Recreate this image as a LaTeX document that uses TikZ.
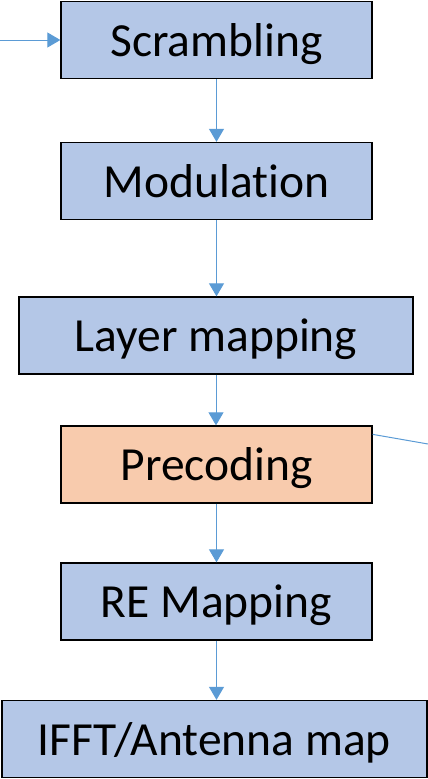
\documentclass[tikz,border=0pt]{standalone}
\usepackage{fontspec}
\setmainfont{Carlito}[Ligatures={NoCommon}]
\usetikzlibrary{arrows.meta}
\definecolor{boxblue}{HTML}{B4C7E7}
\definecolor{boxpeach}{HTML}{F8CBAD}
\definecolor{flowblue}{HTML}{5B9BD5}
\begin{document}
\begin{tikzpicture}[x=1pt,y=-1pt,
  stage/.style={draw=black, line width=1.3pt, fill=boxblue, minimum height=77pt,
    inner sep=0pt, text height=36pt, text depth=4pt,
    font=\fontsize{47.5}{52}\selectfont, text=black},
  flow/.style={draw=flowblue, line width=1pt, -{Triangle[width=15pt,length=13pt]}}]
\useasboundingbox (0,0) rectangle (428,779);
\node[stage, minimum width=311pt] (scr) at (216.5,40) {Scrambling};
\node[stage, minimum width=311pt] (mod) at (216.5,181) {Modulation};
\node[stage, minimum width=394pt] (lay) at (216,335.5) {Layer mapping};
\node[stage, minimum width=311pt, fill=boxpeach] (pre) at (216.5,464.5) {Precoding};
\node[stage, minimum width=311pt] (rem) at (216.5,601.5) {RE Mapping};
\node[stage, minimum width=425pt] (ifft) at (214.5,739) {IFFT/Antenna map};
\coordinate (in) at (0,40);
\coordinate (out) at (428,444);
% input arrow and the vertical chain between the stages
\draw[flow] (in) -- (scr.west);
\draw[flow] (scr.south) -- (scr.south |- mod.north);
\draw[flow] (mod.south) -- (mod.south |- lay.north);
\draw[flow] (lay.south) -- (lay.south |- pre.north);
\draw[flow] (pre.south) -- (pre.south |- rem.north);
\draw[flow] (rem.south) -- (rem.south |- ifft.north);
% side line leaving the precoding stage
\draw[flowblue, line width=1pt] (pre.north east) ++(0,9) -- (out);
\end{tikzpicture}
\end{document}
